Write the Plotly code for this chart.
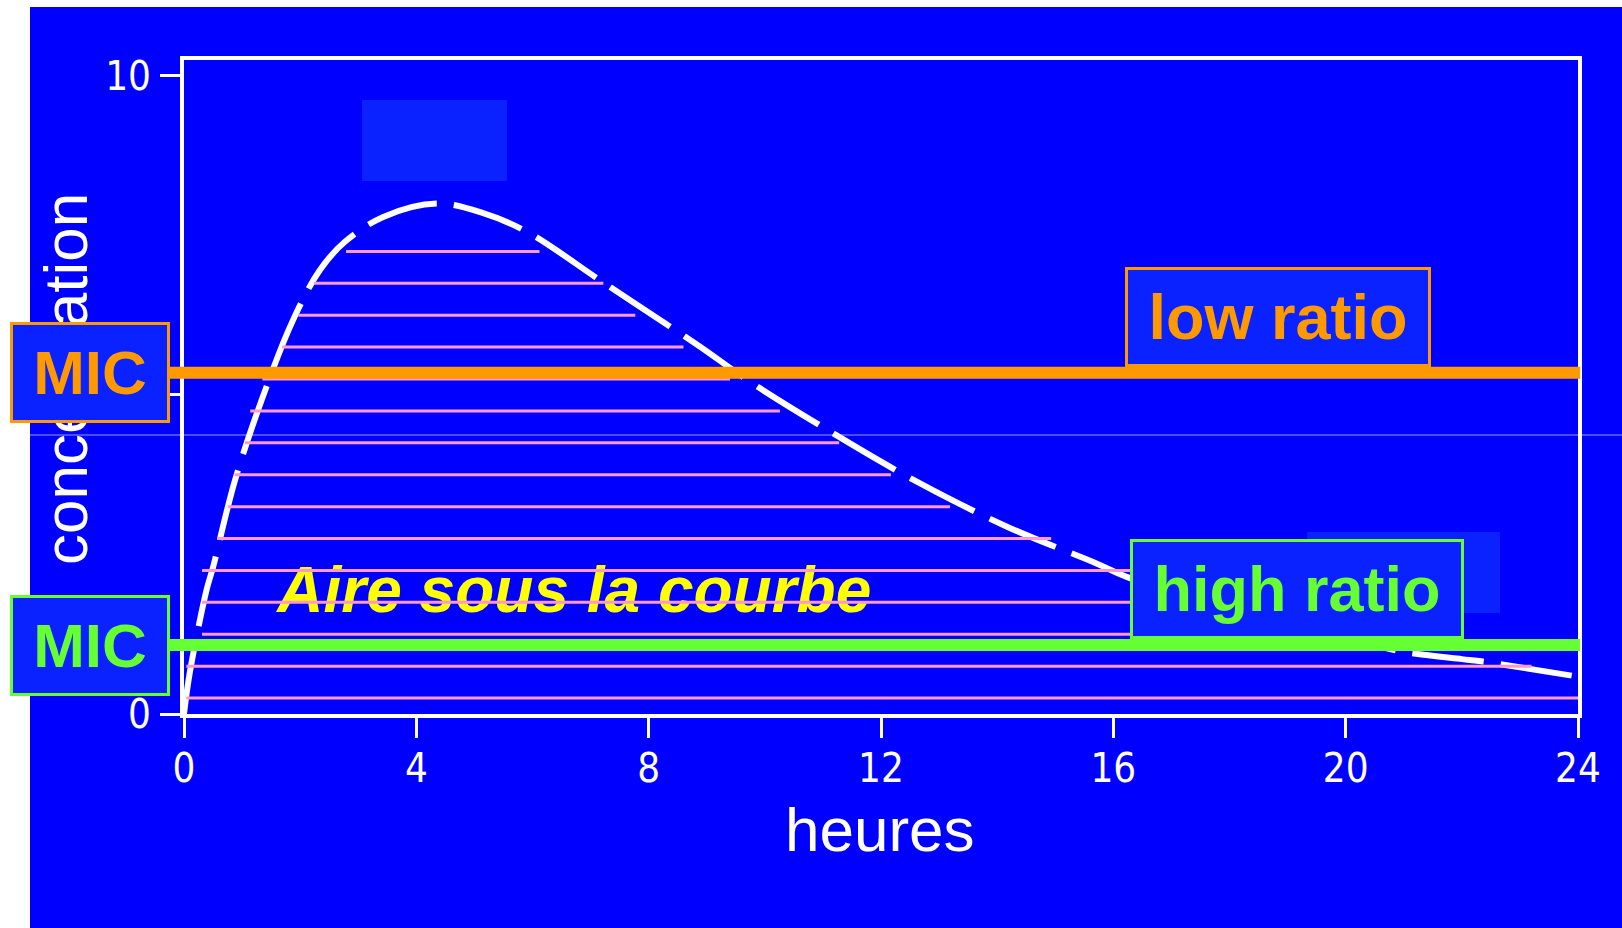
import plotly.graph_objects as go

# ---------------- data ----------------
hours = [0.0, 0.1, 0.39, 0.5, 0.88, 1.42, 1.88, 2.34, 2.77, 3.43, 4.35, 5.15, 5.9,
         7.16, 8.02, 8.88, 9.74, 11.12, 12.56, 14.16, 15.71, 16.23, 18.0, 19.5,
         20.9, 22.0, 22.3, 23.9]
conc = [0.0, 0.65, 1.95, 2.3, 3.67, 5.13, 6.18, 6.96, 7.40, 7.79, 8.0, 7.85, 7.56,
        6.80, 6.28, 5.76, 5.21, 4.43, 3.67, 2.94, 2.36, 2.15, 1.65, 1.3,
        0.99, 0.86, 0.83, 0.6]

hatch_levels = [0.25, 0.75, 1.25, 1.75, 2.25, 2.75, 3.25, 3.75, 4.25, 4.75,
                5.25, 5.75, 6.25, 6.75, 7.25]
hatch_start = [0.04, 0.04, 0.31, 0.31, 0.31, 0.57, 0.76, 0.87, 1.05, 1.14,
               1.35, 1.69, 1.97, 2.24, 2.79]
hatch_end = [24.0, 23.2, 20.8, 18.8, 16.4, 14.93, 13.19, 12.17, 11.28, 10.26,
             9.4, 8.6, 7.77, 7.22, 6.12]

mic_low_ratio = 5.35   # orange MIC
mic_high_ratio = 1.08  # green MIC

x_ticks = [0, 4, 8, 12, 16, 20, 24]
y_ticks = [0, 5, 10]
y_tick_text = ["0", "", "10"]   # the "5" label is hidden behind the MIC box

x_title = "heures"
y_title = "concentration"
area_label = "Aire sous la courbe"
mic_label = "MIC"
low_label = "low ratio"
high_label = "high ratio"

# ---------------- styling ----------------
W, H = 1622, 928
L, R, T, B = 184, 1578, 60, 714      # plot area in pixels
BLUE = "#0000ff"
BOX = "#0a22ff"
ORANGE = "#ff9900"
GREEN = "#66ff33"
PINK = "#ff99cc"
YELLOW = "#ffff00"
FONT = "Liberation Sans, Arial, sans-serif"
NARROW = "Liberation Sans Narrow, DejaVu Sans Condensed, Liberation Sans, sans-serif"


def px(xp):
    return (xp - L) / (R - L)


def py(yp):
    return (B - yp) / (B - T)


hx, hy = [], []
for lv, a, b in zip(hatch_levels, hatch_start, hatch_end):
    hx += [a, b, None]
    hy += [lv, lv, None]

fig = go.Figure()

fig.add_trace(go.Scatter(
    x=[6.72], y=[1.85], mode="text", text=[area_label],
    textfont=dict(family=FONT, size=64, color=YELLOW, weight="bold", style="italic"),
    textposition="middle center", hoverinfo="skip", showlegend=False))

fig.add_trace(go.Scatter(
    x=hours, y=conc, mode="lines", line=dict(color="white", width=6, dash="72px,17px"),
    line_shape="spline", hoverinfo="skip", showlegend=False))

fig.add_trace(go.Scatter(
    x=hx, y=hy, mode="lines", line=dict(color=PINK, width=3),
    hoverinfo="skip", showlegend=False))

shapes = [
    # blue slide background
    dict(type="rect", xref="paper", yref="paper", x0=px(30), x1=px(W + 5),
         y0=py(H + 5), y1=py(7), fillcolor=BLUE, line=dict(width=0), layer="below"),
    # faint scan line
    dict(type="line", xref="paper", yref="paper", x0=px(30), x1=px(W + 5),
         y0=py(435), y1=py(435), line=dict(color="#9999ff", width=1), layer="below"),
    # leftover lighter patches
    dict(type="rect", xref="paper", yref="paper", x0=px(362), x1=px(507),
         y0=py(181), y1=py(100), fillcolor=BOX, line=dict(width=0), layer="below"),
    dict(type="rect", xref="paper", yref="paper", x0=px(1307), x1=px(1500),
         y0=py(613), y1=py(532), fillcolor=BOX, line=dict(width=0), layer="below"),
    # MIC lines
    dict(type="line", xref="paper", yref="y", x0=px(168), x1=px(1580),
         y0=mic_low_ratio, y1=mic_low_ratio, line=dict(color=ORANGE, width=12), layer="above"),
    dict(type="line", xref="paper", yref="y", x0=px(168), x1=px(1580),
         y0=mic_high_ratio, y1=mic_high_ratio, line=dict(color=GREEN, width=12), layer="above"),
]

annotations = [
    dict(text=y_title, xref="paper", yref="paper", x=px(65), y=py(379),
         textangle=-90, showarrow=False, xanchor="center", yanchor="middle",
         font=dict(family=FONT, size=62, color="white")),
    dict(text=x_title, xref="paper", yref="paper", x=px(880), y=py(829),
         showarrow=False, xanchor="center", yanchor="middle",
         font=dict(family=FONT, size=62, color="white")),
    dict(text="<b>%s</b>" % mic_label, xref="paper", yref="y", x=px(89.5), y=mic_low_ratio,
         showarrow=False, xanchor="center", yanchor="middle", width=154, height=95,
         bgcolor=BOX, bordercolor=ORANGE, borderwidth=3, borderpad=0,
         font=dict(family=FONT, size=62, color=ORANGE)),
    dict(text="<b>%s</b>" % mic_label, xref="paper", yref="y", x=px(89.5), y=mic_high_ratio,
         showarrow=False, xanchor="center", yanchor="middle", width=154, height=95,
         bgcolor=BOX, bordercolor=GREEN, borderwidth=3, borderpad=0,
         font=dict(family=FONT, size=62, color=GREEN)),
    dict(text="<b>%s</b>" % low_label, xref="paper", yref="paper", x=px(1277.5), y=py(316.5),
         showarrow=False, xanchor="center", yanchor="middle", width=300, height=94,
         bgcolor=BOX, bordercolor=ORANGE, borderwidth=3, borderpad=0,
         font=dict(family=FONT, size=63, color=ORANGE)),
    dict(text="<b>%s</b>" % high_label, xref="paper", yref="paper", x=px(1297), y=py(588.5),
         showarrow=False, xanchor="center", yanchor="middle", width=328, height=94,
         bgcolor=BOX, bordercolor=GREEN, borderwidth=3, borderpad=0,
         font=dict(family=FONT, size=63, color=GREEN)),
]

axis_common = dict(showline=True, linecolor="white", linewidth=4, mirror=True,
                   ticks="outside", ticklen=20, tickwidth=3, tickcolor="white",
                   showgrid=False, zeroline=False,
                   tickfont=dict(family=NARROW, size=40, color="white"))

fig.update_layout(
    width=W, height=H, autosize=False,
    margin=dict(l=L, r=W - R, t=T, b=H - B, pad=0),
    paper_bgcolor="white", plot_bgcolor=BLUE,
    showlegend=False,
    xaxis=dict(range=[0, 24], tickvals=x_ticks, ticklabelstandoff=-4, **axis_common),
    yaxis=dict(range=[0, 10.25], tickvals=y_ticks, ticktext=y_tick_text,
               ticklabelstandoff=1, **axis_common),
    shapes=shapes, annotations=annotations,
)

fig.write_html("out.html", config={"displayModeBar": False},
               post_script="document.body.style.margin='0';document.body.style.overflow='hidden';")
